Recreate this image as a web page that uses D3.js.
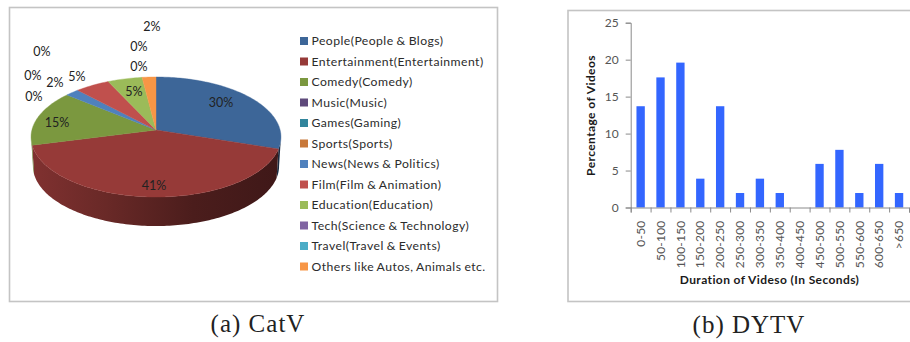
<!DOCTYPE html>
<html>
<head>
<meta charset="utf-8">
<script src="https://cdn.jsdelivr.net/npm/d3@7"></script>
<style>
  html, body { margin: 0; padding: 0; background: #fff; }
  svg { display: block; }
</style>
</head>
<body>
<svg id="figure" width="910" height="342"></svg>
<script>
// Category shares of the video sample, in percent
const categories = [
  "People(People & Blogs)", "Entertainment(Entertainment)", "Comedy(Comedy)",
  "Music(Music)", "Games(Gaming)", "Sports(Sports)", "News(News & Politics)",
  "Film(Film & Animation)", "Education(Education)", "Tech(Science & Technology)",
  "Travel(Travel & Events)", "Others like Autos, Animals etc."
];
const categoryShares = [30, 41, 15, 0, 0, 0, 2, 5, 5, 0, 0, 2];
const categoryColors = [
  "#3d6698", "#963a38", "#7b983f", "#5f4a7b", "#31859c", "#c8783a",
  "#4f81bd", "#c0504d", "#9bbb59", "#8064a2", "#4bacc6", "#f79646"
];

// Duration histogram, in percent of videos
const durationBins = [
  "0-50", "50-100", "100-150", "150-200", "200-250", "250-300", "300-350",
  "350-400", "400-450", "450-500", "500-550", "550-600", "600-650", ">650"
];
const durationShares = [13.7, 17.6, 19.6, 3.9, 13.7, 1.96, 3.9, 1.96, 0, 5.9, 7.8, 1.96, 5.9, 1.96];
const durationTicks = [0, 5, 10, 15, 20, 25];

const svg = d3.select("#figure");
const uiFont = "Lato, 'Open Sans', sans-serif";
const serifFont = "'Liberation Serif', 'DejaVu Serif', serif";

// Panel frames and captions
const frames = [
  { x: 9.5, y: 7.5, w: 488, h: 294 },
  { x: 568, y: 10.5, w: 344, h: 291 }
];
svg.selectAll("rect.frame").data(frames).join("rect")
  .attr("class", "frame")
  .attr("x", d => d.x).attr("y", d => d.y)
  .attr("width", d => d.w).attr("height", d => d.h)
  .attr("fill", "#fff").attr("stroke", "#c4c4c4").attr("stroke-width", 1.6);

const captions = [
  { text: "(a) CatV", x: 258, y: 332 },
  { text: "(b) DYTV", x: 749, y: 333 }
];
svg.selectAll("text.caption").data(captions).join("text")
  .attr("class", "caption")
  .attr("x", d => d.x).attr("y", d => d.y)
  .attr("text-anchor", "middle")
  .attr("font-family", serifFont).attr("font-size", 25).attr("letter-spacing", 1).attr("fill", "#222")
  .text(d => d.text);

// ---- Tilted pie -------------------------------------------------------
const pieLayer = svg.append("g");
const apex = { x: 156, y: 130 };
const radiusX = 124.1, lift = 59.2, foreshorten = 0.1167, wallDepth = 29;

// Perspective projection of a point on the disc, angle measured clockwise from the top
function project(angle, scale = 1, dy = 0) {
  const across = Math.sin(angle), along = Math.cos(angle);
  const w = 1 + foreshorten * along;
  return [apex.x + scale * radiusX * across / w, apex.y + dy - lift * along / w];
}
function rimPoints(a0, a1, scale, dy) {
  const n = Math.max(2, Math.ceil(Math.abs(a1 - a0) / 0.02));
  return d3.range(n + 1).map(i => project(a0 + (a1 - a0) * i / n, scale, dy));
}
const outline = d3.line();
const slices = d3.pie().sort(null).value(d => d)(categoryShares)
  .map((s, i) => ({ ...s, color: categoryColors[i], name: categories[i] }));

// The wall shows where the rim faces the viewer
const wallFrom = Math.acos(-foreshorten), wallTo = 2 * Math.PI - wallFrom;

const defs = svg.append("defs");
const wallShades = [
  { offset: "0%", k: 0.42 }, { offset: "35%", k: 0.5 }, { offset: "70%", k: 0.7 }, { offset: "100%", k: 0.85 }
];
slices.filter(s => s.value > 0).forEach((s, i) => {
  const a0 = Math.max(s.startAngle, wallFrom), a1 = Math.min(s.endAngle, wallTo);
  if (a1 <= a0) return;
  const top = rimPoints(a0, a1, 1, 0);
  const bottom = rimPoints(a1, a0, 0.985, wallDepth);
  const gradId = "wall" + i;
  const grad = defs.append("linearGradient").attr("id", gradId)
    .attr("gradientUnits", "userSpaceOnUse")
    .attr("x1", apex.x + radiusX).attr("x2", apex.x - radiusX)
    .attr("y1", 0).attr("y2", 0);
  const base = d3.rgb(s.color);
  wallShades.forEach(stop => grad.append("stop")
    .attr("offset", stop.offset)
    .attr("stop-color", d3.rgb(base.r * stop.k, base.g * stop.k, base.b * stop.k)));
  pieLayer.append("path")
    .attr("d", outline(top.concat(bottom)) + "Z")
    .attr("fill", `url(#${gradId})`);
});

// Top faces
pieLayer.selectAll("path.slice").data(slices.filter(s => s.value > 0)).join("path")
  .attr("class", "slice")
  .attr("d", s => outline([[apex.x, apex.y]].concat(rimPoints(s.startAngle, s.endAngle, 1, 0))) + "Z")
  .attr("fill", s => s.color)
  .attr("stroke", s => s.color).attr("stroke-width", 0.4);

// Percentage labels, one per category, in legend order
const labelSpots = [
  [221, 103], [154, 186], [57, 123], [34, 97], [33, 76], [42, 52],
  [55, 83], [77, 77], [134, 92], [139, 67], [139, 47], [152, 27]
];
pieLayer.selectAll("text.share").data(categoryShares).join("text")
  .attr("class", "share")
  .attr("x", (d, i) => labelSpots[i][0])
  .attr("y", (d, i) => labelSpots[i][1])
  .attr("dy", "0.35em")
  .attr("text-anchor", "middle")
  .attr("font-family", uiFont).attr("font-size", 12.5).attr("fill", "#222")
  .text(d => d + "%");

// Legend
const legendY = d3.scalePoint().domain(categories).range([41, 266.5]);
const legend = svg.append("g").selectAll("g").data(categories).join("g")
  .attr("transform", d => `translate(300,${legendY(d)})`);
legend.append("rect")
  .attr("x", 0).attr("y", -4).attr("width", 8).attr("height", 8)
  .attr("fill", (d, i) => categoryColors[i]);
legend.append("text")
  .attr("x", 11.5).attr("dy", "0.35em")
  .attr("font-family", uiFont).attr("font-size", 12.2)
  .attr("letter-spacing", 0.45).attr("word-spacing", -0.6).attr("fill", "#2b2b2b")
  .text(d => d);

// ---- Duration histogram -----------------------------------------------
const plot = { left: 630.7, right: 909, top: 22.7, bottom: 207.5 };
const x = d3.scaleBand().domain(durationBins).range([plot.left, plot.right]).paddingInner(0.58).paddingOuter(0.29);
const y = d3.scaleLinear().domain([0, 25]).range([plot.bottom, plot.top]);
const axisGrey = "#8a8a8a";

const chart = svg.append("g");
chart.selectAll("rect.bar").data(durationShares).join("rect")
  .attr("class", "bar")
  .attr("x", (d, i) => x(durationBins[i]))
  .attr("y", d => y(d))
  .attr("width", x.bandwidth())
  .attr("height", d => y(0) - y(d))
  .attr("fill", "#3366ff");

const yAxis = chart.append("g")
  .attr("transform", `translate(${plot.left},0)`)
  .call(d3.axisLeft(y).tickValues(durationTicks).tickSize(5).tickPadding(7));
chart.append("g")
  .attr("transform", `translate(0,${plot.bottom})`)
  .call(d3.axisBottom(d3.scaleLinear().domain([0, durationBins.length]).range([plot.left, plot.right]))
    .ticks(durationBins.length).tickSize(5).tickFormat(""));
chart.selectAll(".domain, .tick line").attr("stroke", axisGrey);
yAxis.selectAll("text")
  .attr("font-family", uiFont).attr("font-size", 12).attr("fill", "#555");

// Rotated labels read upward from a common baseline below the axis
chart.selectAll("text.bin").data(durationBins).join("text")
  .attr("class", "bin")
  .attr("transform", d => `translate(${x(d) + x.bandwidth() / 2},${plot.bottom + 13}) rotate(-90)`)
  .attr("dy", "0.35em")
  .attr("text-anchor", "end")
  .attr("font-family", uiFont).attr("font-size", 12).attr("letter-spacing", 0.2).attr("fill", "#555")
  .text(d => d);

chart.append("text")
  .attr("x", 769.5).attr("y", 280).attr("dy", "0.35em")
  .attr("text-anchor", "middle")
  .attr("font-family", uiFont).attr("font-size", 12).attr("letter-spacing", 0.4).attr("font-weight", 700).attr("fill", "#1a1a1a")
  .text("Duration of Videso (In Seconds)");
chart.append("text")
  .attr("transform", "translate(591,115.5) rotate(-90)")
  .attr("dy", "0.35em")
  .attr("text-anchor", "middle")
  .attr("font-family", uiFont).attr("font-size", 12).attr("letter-spacing", 0.4).attr("font-weight", 700).attr("fill", "#1a1a1a")
  .text("Percentage of Videos");
</script>
</body>
</html>
